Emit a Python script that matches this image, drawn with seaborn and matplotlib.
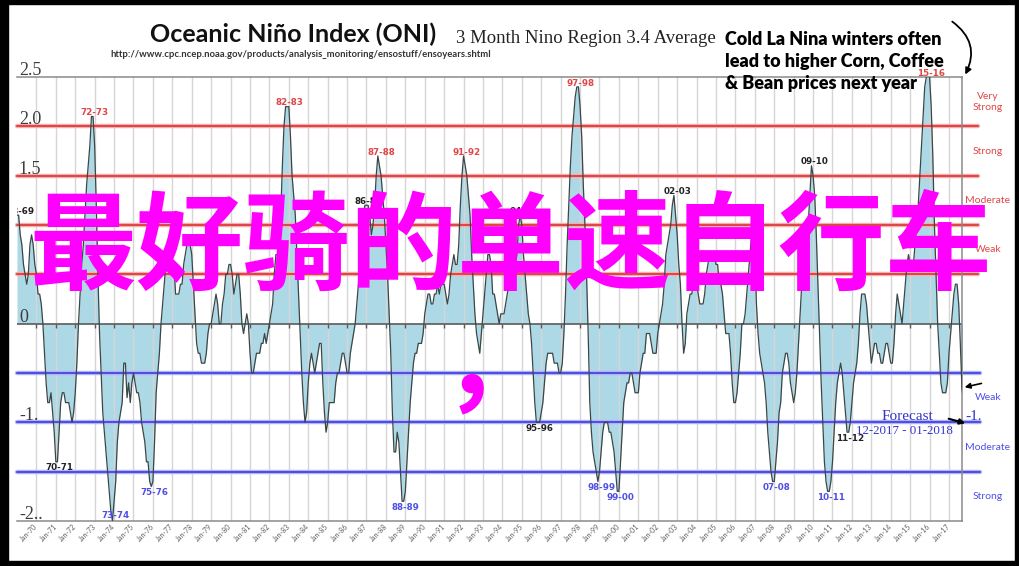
import numpy as np
import pandas as pd
import matplotlib
matplotlib.use("Agg")
import matplotlib.pyplot as plt
import seaborn as sns
from matplotlib.patches import Rectangle
from matplotlib.transforms import blended_transform_factory

# ---------------- data (3-month running ONI, DJF ... NDJ) ----------------
start_year = 1969
oni_1969 = [1.1, 1.1, 0.9, 0.8, 0.6, 0.5, 0.4, 0.5, 0.8, 0.9, 0.8, 0.6]
oni_1970s = [
    0.5, 0.3, 0.3, 0.2, 0.0, -0.3, -0.6, -0.8, -0.8, -0.7, -0.9, -1.1,
    -1.4, -1.4, -1.1, -0.8, -0.7, -0.7, -0.8, -0.8, -0.8, -0.9, -1.0, -0.9,
    -0.7, -0.4, 0.0, 0.3, 0.6, 0.8, 1.1, 1.4, 1.6, 1.8, 2.1, 2.1,
    1.8, 1.2, 0.5, -0.1, -0.5, -0.9, -1.1, -1.3, -1.5, -1.7, -1.9, -2.0,
    -1.8, -1.6, -1.2, -1.0, -0.9, -0.8, -0.4, -0.4, -0.75, -0.6, -0.8, -0.6,
    -0.5, -0.6, -0.7, -0.7, -0.8, -1.0, -1.1, -1.2, -1.4, -1.4, -1.6, -1.65,
    -1.6, -1.2, -0.7, -0.5, -0.3, 0.0, 0.2, 0.4, 0.6, 0.8, 0.8, 0.8,
    0.6, 0.6, 0.3, 0.3, 0.3, 0.4, 0.4, 0.6, 0.7, 0.8, 0.8, 0.8,
    0.7, 0.4, 0.1, -0.2, -0.3, -0.3, -0.4, -0.4, -0.4, -0.3, -0.1, 0.0,
    0.0, 0.1, 0.2, 0.3, 0.2, 0.0, 0.0, 0.2, 0.3, 0.5, 0.5, 0.6,
]
oni_1980s = [
    0.6, 0.5, 0.3, 0.4, 0.5, 0.5, 0.3, 0.0, -0.1, 0.0, 0.1, 0.0,
    -0.3, -0.5, -0.5, -0.4, -0.3, -0.3, -0.3, -0.2, -0.2, -0.1, -0.2, -0.1,
    0.0, 0.1, 0.2, 0.5, 0.7, 0.7, 0.8, 1.1, 1.6, 2.0, 2.2, 2.2,
    2.2, 1.9, 1.5, 1.3, 1.1, 0.7, 0.3, -0.1, -0.5, -0.8, -1.0, -0.9,
    -0.6, -0.4, -0.3, -0.4, -0.5, -0.4, -0.3, -0.2, -0.2, -0.6, -0.9, -1.1,
    -1.0, -0.8, -0.8, -0.8, -0.8, -0.6, -0.5, -0.5, -0.4, -0.3, -0.3, -0.4,
    -0.5, -0.5, -0.3, -0.2, -0.1, 0.0, 0.2, 0.4, 0.7, 0.9, 1.1, 1.2,
    1.2, 1.2, 1.1, 0.9, 1.0, 1.2, 1.5, 1.7, 1.6, 1.5, 1.3, 1.1,
    0.8, 0.5, 0.1, -0.3, -0.9, -1.3, -1.3, -1.1, -1.2, -1.5, -1.8, -1.8,
    -1.7, -1.4, -1.1, -0.8, -0.6, -0.4, -0.3, -0.3, -0.2, -0.2, -0.2, -0.1,
]
oni_1990s = [
    0.1, 0.2, 0.3, 0.3, 0.2, 0.2, 0.3, 0.3, 0.4, 0.3, 0.4, 0.4,
    0.4, 0.3, 0.2, 0.3, 0.5, 0.6, 0.7, 0.6, 0.6, 0.8, 1.2, 1.5,
    1.7, 1.6, 1.5, 1.3, 1.1, 0.7, 0.4, 0.1, -0.1, -0.2, -0.3, -0.1,
    0.1, 0.3, 0.5, 0.7, 0.7, 0.6, 0.3, 0.3, 0.2, 0.1, 0.0, 0.1,
    0.1, 0.1, 0.2, 0.3, 0.4, 0.4, 0.4, 0.4, 0.6, 0.7, 1.0, 1.1,
    1.0, 0.7, 0.5, 0.3, 0.1, 0.0, -0.2, -0.5, -0.8, -1.0, -1.0, -1.0,
    -0.9, -0.8, -0.6, -0.4, -0.3, -0.3, -0.3, -0.3, -0.4, -0.4, -0.4, -0.5,
    -0.5, -0.4, -0.1, 0.3, 0.8, 1.2, 1.6, 1.9, 2.1, 2.3, 2.4, 2.4,
    2.2, 1.9, 1.4, 1.0, 0.5, -0.1, -0.8, -1.1, -1.3, -1.4, -1.5, -1.6,
    -1.5, -1.3, -1.1, -1.0, -1.0, -1.0, -1.1, -1.1, -1.2, -1.3, -1.5, -1.7,
]
oni_2000s = [
    -1.7, -1.4, -1.1, -0.8, -0.7, -0.6, -0.6, -0.5, -0.5, -0.6, -0.7, -0.7,
    -0.7, -0.5, -0.4, -0.3, -0.3, -0.1, -0.1, -0.1, -0.2, -0.3, -0.3, -0.3,
    -0.1, 0.0, 0.1, 0.2, 0.4, 0.7, 0.8, 0.9, 1.0, 1.2, 1.3, 1.1,
    0.9, 0.6, 0.4, 0.0, -0.3, -0.2, 0.1, 0.2, 0.3, 0.3, 0.4, 0.4,
    0.4, 0.3, 0.2, 0.2, 0.2, 0.3, 0.5, 0.6, 0.7, 0.7, 0.7, 0.7,
    0.6, 0.6, 0.4, 0.4, 0.3, 0.1, -0.1, -0.1, -0.1, -0.3, -0.6, -0.8,
    -0.8, -0.7, -0.5, -0.3, 0.0, 0.0, 0.1, 0.3, 0.5, 0.7, 0.9, 0.9,
    0.7, 0.2, -0.1, -0.3, -0.4, -0.5, -0.6, -0.8, -1.1, -1.3, -1.5, -1.6,
    -1.6, -1.4, -1.2, -0.9, -0.8, -0.5, -0.4, -0.3, -0.3, -0.4, -0.6, -0.7,
    -0.8, -0.7, -0.5, -0.2, 0.1, 0.4, 0.5, 0.5, 0.7, 1.0, 1.3, 1.6,
]
oni_2010s = [
    1.5, 1.3, 0.9, 0.4, -0.1, -0.6, -1.0, -1.4, -1.6, -1.7, -1.7, -1.6,
    -1.4, -1.1, -0.8, -0.6, -0.5, -0.4, -0.5, -0.7, -0.9, -1.1, -1.1, -1.0,
    -0.8, -0.6, -0.5, -0.4, -0.2, 0.1, 0.3, 0.3, 0.3, 0.2, 0.0, -0.2,
    -0.4, -0.3, -0.2, -0.2, -0.3, -0.3, -0.4, -0.4, -0.3, -0.2, -0.2, -0.3,
    -0.4, -0.4, -0.2, 0.1, 0.3, 0.2, 0.1, 0.0, 0.2, 0.4, 0.6, 0.7,
    0.6, 0.6, 0.6, 0.8, 1.0, 1.2, 1.5, 1.8, 2.1, 2.4, 2.5, 2.6,
    2.5, 2.2, 1.7, 1.0, 0.5, 0.0, -0.3, -0.6, -0.7, -0.7, -0.7, -0.6,
    -0.3, -0.1, 0.1, 0.3, 0.4, 0.4, 0.2, -0.2, -0.65, -0.8,
]

tick_years = list(range(1970, 2018))
tick_labels = [f"Jan-{y % 100:02d}" for y in tick_years]

y_label_values = [2.5, 2.0, 1.5, 0.0, -1.0, -2.0]
y_label_texts = ["2.5", "2.0", "1.5", "0", "-1.", "-2.."]

warm_levels = [2.0, 1.5, 1.0, 0.5]
warm_names = ["Very\nStrong", "Strong", "Moderate", "Weak"]
cool_levels = [-0.5, -1.0, -1.5]
cool_names = ["Weak", "Moderate", "Strong"]

warm_events = ["68-69", "72-73", "82-83", "86-87", "87-88", "91-92",
               "94-95", "97-98", "02-03", "09-10", "15-16"]
warm_event_years = [1969.0, 1972.9, 1982.9, 1987.0, 1987.6, 1992.0,
                    1994.9, 1997.9, 2002.9, 2009.9, 2015.9]
warm_event_strong = [False, True, True, False, True, True,
                     False, True, False, False, True]
cool_events = ["70-71", "73-74", "75-76", "88-89", "95-96", "98-99",
               "99-00", "07-08", "10-11", "11-12"]
cool_event_years = [1971.0, 1973.95, 1975.9, 1988.9, 1995.8, 1998.95,
                    1999.95, 2008.0, 2010.8, 2011.85]
cool_event_strong = [False, True, True, True, False, True,
                     True, True, True, False]

title = "Oceanic Niño Index (ONI)"
subtitle = "3 Month Nino Region 3.4 Average"
source_url = "http://www.cpc.ncep.noaa.gov/products/analysis_monitoring/ensostuff/ensoyears.shtml"
note_lines = ["Cold La Nina winters often", "lead to higher Corn, Coffee",
              "& Bean prices next year"]
overlay_text = "最好骑的单速自行车"
overlay_comma = "，"
forecast_title = "Forecast"
forecast_period = "12-2017 - 01-2018"
forecast_value = "-1."

# ---------------- build ----------------
oni = oni_1969 + oni_1970s + oni_1980s + oni_1990s + oni_2000s + oni_2010s
t = start_year + np.arange(len(oni)) / 12.0
df = pd.DataFrame({"time": t, "oni": oni})

sns.set_style("white")
plt.rcParams["font.family"] = ["DejaVu Sans"]

W, H = 1020, 566
fig = plt.figure(figsize=(W / 100, H / 100), dpi=100)
fig.patch.set_facecolor("white")
ax = fig.add_axes([17 / W, 1 - 521 / H, (962 - 17) / W, (521 - 77) / H])
ax.set_facecolor("white")

x0, x1 = 1969.0, 2017.67
ax.set_xlim(x0, x1)
ax.set_ylim(-2.0, 2.5)

RED = "#e04646"
BLUE = "#4f4fe6"

ax.fill_between(df["time"], df["oni"], 0, color="#add8e6", lw=0, zorder=1)
for yr in tick_years:
    ax.axvline(yr, color="#d6d6d6", lw=1.0, zorder=1.5)
for lv in warm_levels:
    ax.axhline(lv, xmin=0, xmax=1.017, color="#f2b4b4", lw=3.2, zorder=1.8, clip_on=False)
    ax.axhline(lv, xmin=0, xmax=1.017, color=RED, lw=1.5, zorder=1.9, clip_on=False)
for lv in cool_levels:
    ax.axhline(lv, xmin=0, xmax=1.019, color="#b8b8f4", lw=3.2, zorder=1.8, clip_on=False)
    ax.axhline(lv, xmin=0, xmax=1.019, color=BLUE, lw=1.5, zorder=1.9, clip_on=False)
ax.axhline(0, color="#5a5a5a", lw=1.2, zorder=2)
ax.plot(tick_years, [0] * len(tick_years), linestyle="none", marker=3,
        ms=3, mew=1, color="#5a5a5a", zorder=2)
sns.lineplot(data=df, x="time", y="oni", ax=ax, color="#3b4646", lw=0.9,
             zorder=3, estimator=None)
ax.set_xlabel("")
ax.set_ylabel("")

for side in ["top", "bottom", "right"]:
    ax.spines[side].set_color("#8a8a8a")
    ax.spines[side].set_linewidth(1.1)
ax.spines["left"].set_visible(False)

ax.set_yticks([])
ax.set_xticks(tick_years)
ax.set_xticklabels(tick_labels, rotation=45, ha="right", va="center",
                   rotation_mode="anchor", fontsize=5, color="#606060",
                   family=["Lato", "DejaVu Sans"])
ax.tick_params(axis="x", length=0, pad=3)

trans_ax_data = blended_transform_factory(ax.transAxes, ax.transData)
for v, s in zip(y_label_values, y_label_texts):
    ax.annotate(s, xy=(0.002, v), xycoords=trans_ax_data, xytext=(0, 1.5),
                textcoords="offset points", ha="left", va="baseline",
                fontsize=13, color="#3c3c3c", family=["Liberation Serif"],
                annotation_clip=False, zorder=4)

# category band names at right: warm bands lie above each level, cool below
tops_w = [2.5] + warm_levels[:-1]
for name, hi, lo in zip(warm_names, tops_w, warm_levels):
    ax.text(1.0275, (hi + lo) / 2, name, transform=trans_ax_data, ha="center",
            va="center", fontsize=7.5, color=RED, family=["Lato", "DejaVu Sans"],
            linespacing=1.25, clip_on=False)
lows_c = cool_levels[1:] + [-2.0]
for name, hi, lo in zip(cool_names, cool_levels, lows_c):
    ax.text(1.0275, (hi + lo) / 2, name, transform=trans_ax_data, ha="center",
            va="center", fontsize=7.5, color=BLUE, family=["Lato", "DejaVu Sans"],
            clip_on=False)

# event labels at local extremes
vals = np.array(oni)
ymin, ymax = ax.get_ylim()
for name, yr, strong in zip(warm_events, warm_event_years, warm_event_strong):
    m = np.abs(t - yr) <= 0.35
    i = np.where(m)[0][np.argmax(vals[m])]
    yv = min(vals[i], ymax)
    ax.annotate(name, xy=(t[i], yv), xytext=(2.5, -0.5), textcoords="offset points",
                ha="center", va="bottom", fontsize=6.3, weight="bold",
                color=RED if strong else "#222222", annotation_clip=False,
                clip_on=(name == "68-69"), zorder=4)
for name, yr, strong in zip(cool_events, cool_event_years, cool_event_strong):
    m = np.abs(t - yr) <= 0.35
    i = np.where(m)[0][np.argmin(vals[m])]
    yv = vals[i]
    at_floor = yv - ymin < 0.1
    ax.annotate(name, xy=(t[i], yv), xytext=(2.5, 1.0 if at_floor else -1.0),
                textcoords="offset points", ha="center",
                va="bottom" if at_floor else "top", fontsize=6.3, weight="bold",
                color=BLUE if strong else "#222222", annotation_clip=False, zorder=4)

# arrow to the latest value
ax.annotate("", xy=(t[-2], vals[-2]), xytext=(16, 3.6), textcoords="offset points",
            arrowprops=dict(arrowstyle="-|>", color="black", lw=1.2,
                            mutation_scale=8), annotation_clip=False)


def fx(px):
    return px / W


def fy(py):
    return 1 - py / H


fig.text(fx(150), fy(42), title, fontsize=18, weight="bold",
         family=["Lato", "DejaVu Sans"], ha="left", va="baseline", color="#111111")
fig.text(fx(456), fy(43), subtitle, fontsize=13.5, family=["Liberation Serif"],
         ha="left", va="baseline", color="#222222")
fig.text(fx(110), fy(57), source_url, fontsize=6.8, weight="bold",
         family=["Lato", "DejaVu Sans"], ha="left", va="baseline", color="#333333")
for k, line in enumerate(note_lines):
    fig.text(fx(725), fy(45 + 22 * k), line, fontsize=13, weight="heavy",
             family=["Lato", "DejaVu Sans"], ha="left", va="baseline", color="black")
ax.annotate("", xy=(fx(964), fy(77)), xycoords="figure fraction",
            xytext=(fx(950), fy(20)), textcoords="figure fraction",
            arrowprops=dict(arrowstyle="-|>", color="black", lw=1.3,
                            connectionstyle="arc3,rad=-0.45", mutation_scale=9),
            annotation_clip=False)

fig.text(fx(882), fy(420), forecast_title, fontsize=11, family=["Liberation Serif"],
         color="#3535c8", ha="left", va="baseline")
fig.text(fx(856), fy(434), forecast_period, fontsize=9.3, family=["Liberation Serif"],
         color="#3535c8", ha="left", va="baseline")
fig.text(fx(965), fy(420), forecast_value, fontsize=11, family=["Liberation Serif"],
         color="#3535c8", ha="left", va="baseline")
ax.annotate("", xy=(fx(968), fy(424)), xycoords="figure fraction",
            xytext=(fx(946), fy(418)), textcoords="figure fraction",
            arrowprops=dict(arrowstyle="-|>", color="black", lw=1.5, mutation_scale=8),
            annotation_clip=False)

fig.text(fx(511), fy(250), overlay_text, fontsize=77, weight="bold",
         family=["Noto Sans CJK SC"], color="#ff00ff", ha="center", va="center",
         zorder=20)
fig.text(fx(495), fy(368), overlay_comma, fontsize=77, weight="bold",
         family=["Noto Sans CJK SC"], color="#ff00ff", ha="center", va="center",
         zorder=20)

# black frame around the picture
for (l, b, w, h) in [(0, 0, 8, H), (W - 5, 0, 5, H), (0, H - 4, W, 4), (0, 0, W, 5)]:
    fig.patches.append(Rectangle((l / W, b / H), w / W, h / H, transform=fig.transFigure,
                                 color="black", zorder=30))

fig.savefig("out.png", dpi=100, facecolor="white")
